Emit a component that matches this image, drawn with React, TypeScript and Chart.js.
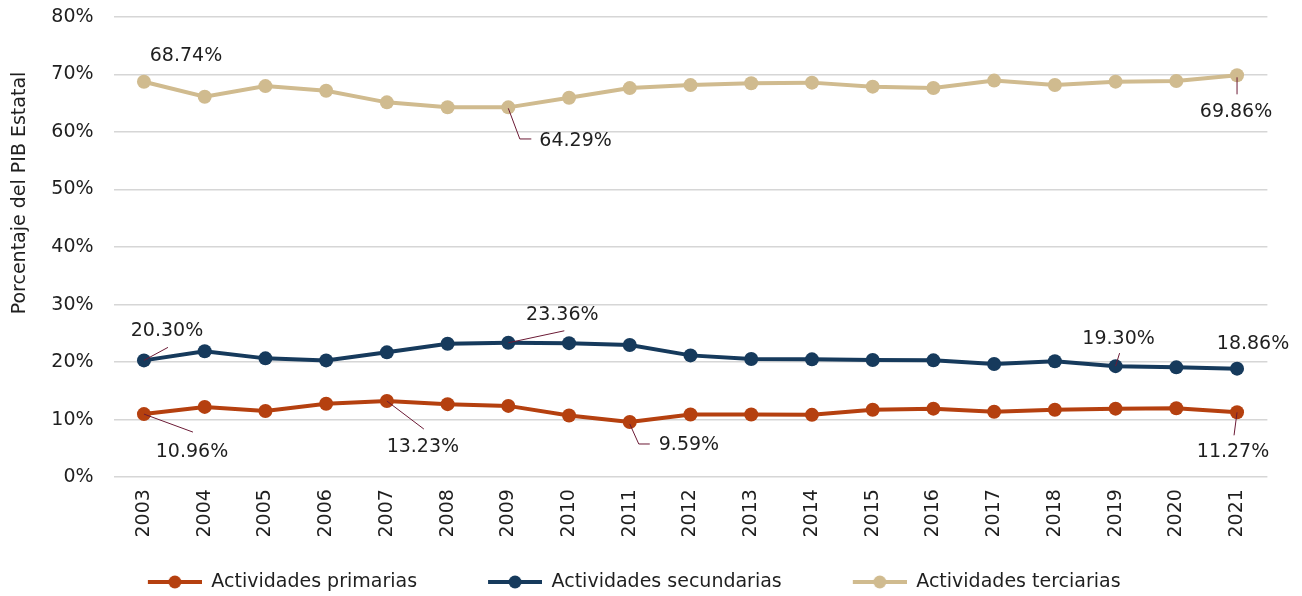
import React, { useEffect, useRef } from 'react';
import { Chart, registerables } from 'chart.js';

Chart.register(...registerables);

const years = ['2003', '2004', '2005', '2006', '2007', '2008', '2009', '2010', '2011', '2012', '2013', '2014', '2015', '2016', '2017', '2018', '2019', '2020', '2021'];
const primarias = [10.96, 12.21, 11.49, 12.75, 13.23, 12.69, 12.39, 10.71, 9.59, 10.89, 10.89, 10.83, 11.73, 11.91, 11.37, 11.73, 11.91, 11.97, 11.27];
const secundarias = [20.30, 21.9, 20.65, 20.3, 21.7, 23.2, 23.36, 23.3, 22.97, 21.17, 20.54, 20.48, 20.37, 20.31, 19.67, 20.14, 19.30, 19.09, 18.86];
const terciarias = [68.74, 66.14, 67.99, 67.18, 65.16, 64.32, 64.29, 65.97, 67.64, 68.16, 68.47, 68.59, 67.89, 67.66, 68.94, 68.18, 68.76, 68.88, 69.86];
const seriesNames = ['Actividades primarias', 'Actividades secundarias', 'Actividades terciarias'];
const yTicks = [0, 10, 20, 30, 40, 50, 60, 70, 80];
const yTitle = 'Porcentaje del PIB Estatal';

const seriesValues = [primarias, secundarias, terciarias];
const colors = ['#b5400f', '#163a5c', '#d0bb8f'];
const FONT = '"DejaVu Sans", sans-serif';
const FS = 19;
const TEXT = '#1f1f1f';
const LEADER = '#6b1a35';

// annotated points: dataset, index, text offset, leader line (offsets from the point)
const notes = [
  { ds: 2, i: 0, dx: 42, dy: -26, align: 'center', line: [] },
  { ds: 2, i: 6, dx: 31, dy: 34, align: 'left', line: [[0, 1], [11.5, 31.6], [23, 31.6]] },
  { ds: 2, i: 18, dx: -1, dy: 37, align: 'center', line: [[0, 2], [0, 19]] },
  { ds: 1, i: 0, dx: 23, dy: -29, align: 'center', line: [[0, 0], [24, -13]] },
  { ds: 1, i: 6, dx: 54, dy: -28, align: 'center', line: [[0, 0], [56, -12]] },
  { ds: 1, i: 16, dx: 3, dy: -27, align: 'center', line: [[0, 0], [4, -13]] },
  { ds: 1, i: 18, dx: 16, dy: -25, align: 'center', line: [] },
  { ds: 0, i: 0, dx: 48, dy: 38, align: 'center', line: [[0, 0], [49, 18]] },
  { ds: 0, i: 4, dx: 36, dy: 46, align: 'center', line: [[0, 0], [37, 28]] },
  { ds: 0, i: 8, dx: 29, dy: 23, align: 'left', line: [[0, 2], [9, 22], [20, 22]] },
  { ds: 0, i: 18, dx: -4, dy: 40, align: 'center', line: [[0, 0], [-3, 23]] },
];

const LEG_PAD = 32;
const ICON_GAP = 39;
const ICON_W = 54;
const LEG_SHIFT = -19;

function legendIcon(color: string) {
  const c = document.createElement('canvas');
  c.width = ICON_GAP + ICON_W;
  c.height = 16;
  const g = c.getContext('2d')!;
  g.strokeStyle = color;
  g.lineWidth = 4;
  g.beginPath();
  g.moveTo(ICON_GAP, 8);
  g.lineTo(ICON_GAP + ICON_W, 8);
  g.stroke();
  g.fillStyle = color;
  g.beginPath();
  g.arc(ICON_GAP + ICON_W / 2, 8, 6.5, 0, Math.PI * 2);
  g.fill();
  return c;
}

const notesPlugin = {
  id: 'notes',
  afterDatasetsDraw(chart: any) {
    const ctx = chart.ctx;
    ctx.save();
    ctx.font = `${FS}px ${FONT}`;
    ctx.textBaseline = 'middle';
    for (const a of notes) {
      const el = chart.getDatasetMeta(a.ds).data[a.i];
      const px = el.x;
      const py = el.y;
      if (a.line.length) {
        ctx.beginPath();
        a.line.forEach(([dx, dy]: number[], k: number) => {
          if (k === 0) ctx.moveTo(px + dx, py + dy);
          else ctx.lineTo(px + dx, py + dy);
        });
        ctx.strokeStyle = LEADER;
        ctx.lineWidth = 1;
        ctx.stroke();
      }
      ctx.textAlign = a.align;
      ctx.fillStyle = TEXT;
      ctx.fillText(seriesValues[a.ds][a.i].toFixed(2) + '%', px + a.dx, py + a.dy);
    }
    ctx.restore();
  },
};

const yTitlePlugin = {
  id: 'ytitle',
  afterDraw(chart: any) {
    const ctx = chart.ctx;
    ctx.save();
    ctx.font = `${FS}px ${FONT}`;
    ctx.fillStyle = TEXT;
    ctx.textAlign = 'center';
    ctx.textBaseline = 'middle';
    ctx.translate(20, chart.chartArea.top + 176);
    ctx.rotate(-Math.PI / 2);
    ctx.fillText(yTitle, 0, 0);
    ctx.restore();
  },
};

const legendShiftPlugin = {
  id: 'legendShift',
  afterLayout(chart: any) {
    const lg = chart.legend;
    if (lg) {
      lg.left += LEG_SHIFT;
      lg.right += LEG_SHIFT;
    }
  },
};

export default function App() {
  const ref = useRef<HTMLCanvasElement>(null);
  useEffect(() => {
    const chart = new Chart(ref.current!, {
      type: 'line',
      data: {
        labels: years,
        datasets: seriesValues.map((vals, k) => ({
          label: seriesNames[k],
          data: vals,
          borderColor: colors[k],
          backgroundColor: colors[k],
          borderWidth: 4,
          pointRadius: 7,
          pointHoverRadius: 7,
          pointBorderWidth: 0,
          pointBackgroundColor: colors[k],
          tension: 0,
          fill: false,
        })),
      },
      options: {
        animation: false,
        responsive: true,
        maintainAspectRatio: false,
        events: [],
        layout: { padding: { left: 0, right: 34.6, top: 17, bottom: 0 } },
        scales: {
          x: {
            offset: true,
            grid: { display: true, drawOnChartArea: false, drawTicks: true, tickLength: 9, tickColor: 'rgba(0,0,0,0)' },
            border: { display: false },
            ticks: {
              autoSkip: false,
              minRotation: 90,
              maxRotation: 90,
              padding: 3,
              color: TEXT,
              font: { family: FONT, size: FS },
            },
          },
          y: {
            min: 0,
            max: 80,
            afterBuildTicks: (s: any) => {
              s.ticks = yTicks.map((v) => ({ value: v }));
            },
            grid: { color: '#d6d6d6', lineWidth: 1.5, drawTicks: true, tickLength: 17, tickColor: 'rgba(0,0,0,0)' },
            border: { display: false },
            ticks: {
              padding: 3,
              color: TEXT,
              font: { family: FONT, size: FS },
              callback: (v: any) => v + '%',
            },
            afterFit: (s: any) => {
              s.width = 113.6;
            },
          },
        },
        plugins: {
          tooltip: { enabled: false },
          legend: {
            position: 'bottom',
            maxHeight: 23.5 + LEG_PAD,
            labels: {
              usePointStyle: true,
              pointStyleWidth: ICON_GAP + ICON_W,
              padding: LEG_PAD,
              color: TEXT,
              font: { family: FONT, size: FS },
              generateLabels: (ch: any) =>
                ch.data.datasets.map((ds: any, i: number) => ({
                  text: ds.label,
                  pointStyle: legendIcon(colors[i]),
                  fillStyle: colors[i],
                  strokeStyle: colors[i],
                  lineWidth: 0,
                  fontColor: TEXT,
                  datasetIndex: i,
                  hidden: false,
                })),
            },
          },
        },
      },
      plugins: [notesPlugin, yTitlePlugin, legendShiftPlugin],
    } as any);
    return () => chart.destroy();
  }, []);
  return (
    <div style={{ position: 'fixed', left: 0, top: 0, width: 1302, height: 596, background: '#fff' }}>
      <canvas ref={ref} />
    </div>
  );
}
